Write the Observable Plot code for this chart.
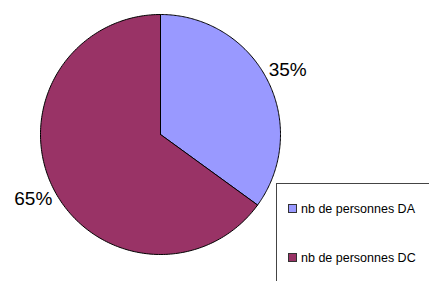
<!DOCTYPE html>
<html><head><meta charset="utf-8">
<script src="https://cdn.jsdelivr.net/npm/d3@7"></script>
<script src="https://cdn.jsdelivr.net/npm/@observablehq/plot@0.6"></script>
<style>
body{margin:0;background:#fff;font-family:"Liberation Sans",Arial,sans-serif;}
#wrap{position:relative;width:429px;height:281px;overflow:hidden;}
#legend{position:absolute;left:276px;top:183px;width:170px;height:120px;border:1px solid #444;background:#fff;box-sizing:border-box;}
.item{position:absolute;left:11px;font-size:12.5px;color:#000;white-space:nowrap;line-height:14px;}
.sw{display:inline-block;width:7px;height:7px;border:1px solid #333;margin-right:4px;vertical-align:0px;}
</style></head><body>
<div id="wrap"></div>
<script>
const categories = ["nb de personnes DA", "nb de personnes DC"];
const values = [35, 65];
const labels = ["35%", "65%"];
const colors = ["#9999FF", "#993366"];

const cx = 160, cy = 134, R = 120, W = 429, H = 281;
const arcs = d3.pie().sort(null).startAngle(0).endAngle(2*Math.PI)(values);
const poly = [];
arcs.forEach((a, i) => {
  const n = 200;
  poly.push({cat: categories[i], x: 0, y: 0});
  for (let k = 0; k <= n; k++) {
    const t = a.startAngle + (a.endAngle - a.startAngle) * k / n;
    poly.push({cat: categories[i], x: Math.sin(t), y: Math.cos(t)});
  }
  poly.push({cat: categories[i], x: 0, y: 0});
});
const lab = arcs.map((a, i) => {
  const m = (a.startAngle + a.endAngle) / 2;
  return {text: labels[i], x: 1.19 * Math.sin(m), y: 1.19 * Math.cos(m)};
});

const chart = Plot.plot({
  width: W, height: H, margin: 0,
  x: {domain: [-cx / R, (W - cx) / R], range: [0, W], axis: null},
  y: {domain: [-(H - cy) / R, cy / R], range: [H, 0], axis: null},
  color: {domain: categories, range: colors},
  style: {fontFamily: "Liberation Sans, Arial, sans-serif", background: "#fff"},
  marks: [
    Plot.line(poly, {x: "x", y: "y", z: "cat", fill: "cat", stroke: "#000", strokeWidth: 1, curve: "linear"}),
    Plot.text(lab, {x: "x", y: "y", text: "text", fontSize: 19, fill: "#000"})
  ]
});
const wrap = document.getElementById("wrap");
wrap.appendChild(chart);
const leg = document.createElement("div");
leg.id = "legend";
categories.forEach((c, i) => {
  const it = document.createElement("div");
  it.className = "item";
  it.style.top = (18 + i * 49) + "px";
  it.innerHTML = `<span class="sw" style="background:${colors[i]}"></span>${c}`;
  leg.appendChild(it);
});
wrap.appendChild(leg);
</script>
</body></html>
